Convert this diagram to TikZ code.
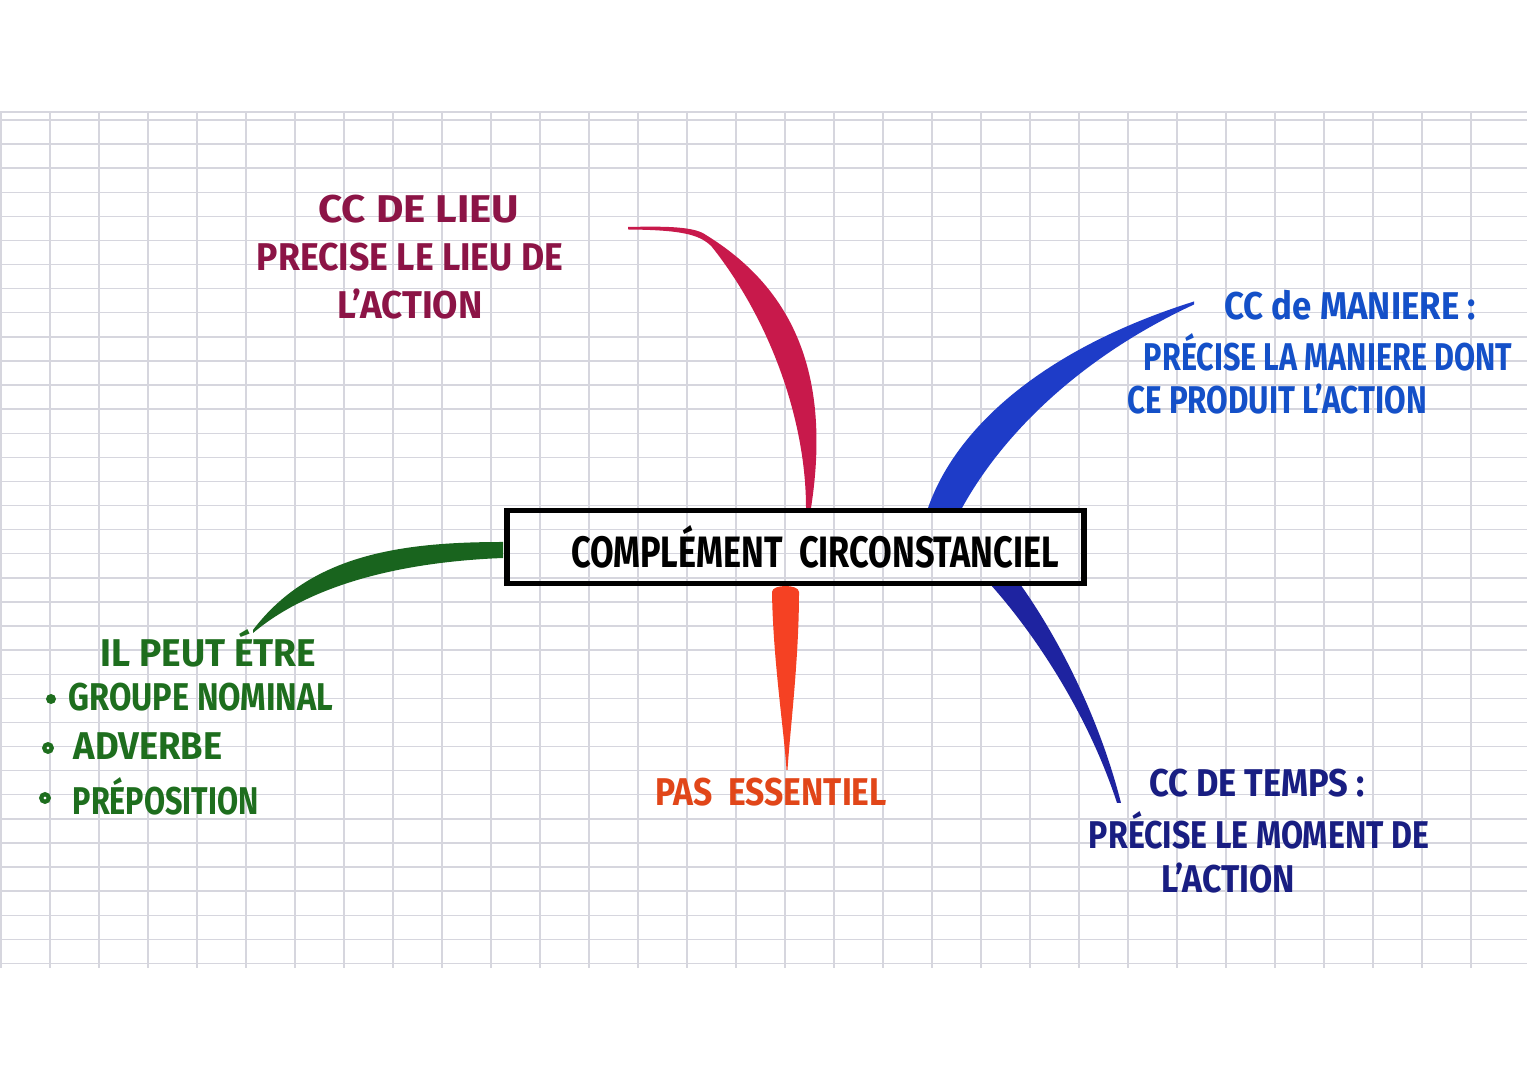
\documentclass[tikz,border=0pt]{standalone}
\usepackage{fontspec}
\setmainfont{Fira Sans}
\usepackage{graphicx}
\definecolor{gridc}{RGB}{214,214,222}
\definecolor{lieuB}{RGB}{200,25,75}
\definecolor{lieuT}{RGB}{140,20,70}
\definecolor{manB}{RGB}{30,60,200}
\definecolor{manT}{RGB}{20,80,200}
\definecolor{grnB}{RGB}{25,100,30}
\definecolor{grnT}{RGB}{30,110,30}
\definecolor{orgB}{RGB}{245,65,35}
\definecolor{orgT}{RGB}{225,70,25}
\definecolor{navB}{RGB}{30,35,160}
\definecolor{navT}{RGB}{25,30,130}
\newcommand\hw[2][0.78]{\scalebox{#1}[1]{#2}}
\tikzset{
  lbl/.style={inner sep=0pt, font=\fontsize{11}{13}\selectfont\bfseries},
  gridline/.style={draw=gridc, line width=0.4pt},
  mainbox/.style={draw=black, line width=1.6pt, minimum width=5.77cm, minimum height=0.73cm, inner sep=0pt},
  hollowdot/.style={circle, line width=1.2pt, inner sep=0pt, minimum size=0.075cm},
  fulldot/.style={circle, inner sep=0pt, minimum size=0.1cm},
}
\begin{document}
\begin{tikzpicture}[x=0.01cm,y=-0.01cm]
\fill[white] (0,0) rectangle (1527,1080);
\useasboundingbox (0,0) rectangle (1527,1080);
% grid paper
\foreach \k in {0,...,30} {\draw[gridline] ({1+49*\k},112) -- ({1+49*\k},968);}
\foreach \k in {0,...,35} {\draw[gridline] (0,{120+24.1*\k}) -- (1527,{120+24.1*\k});}
\draw[gridline] (0,112) -- (1527,112);

% branch end points
\coordinate (lieuEnd) at (628,228);
\coordinate (manEnd) at (1194,303);
\coordinate (grnEnd) at (253,631);
\coordinate (orgEnd) at (787,770);
\coordinate (navEnd) at (1119,803);

% branches (tapered strokes)
\fill[lieuB] (628,227) .. controls (670,226) and (695,227) .. (706,235)
  .. controls (782,282) and (834,360) .. (811,508) -- (806,508)
  .. controls (806,420) and (770,320) .. (712,247)
  .. controls (700,234) and (680,230) .. (628,229.5) -- cycle;
\fill[manB] (928,508) .. controls (955,430) and (1040,350) .. (1194,301.5)
  -- (1194,304.5) .. controls (1085,355) and (1005,430) .. (962,508) -- cycle;
\fill[grnB] (503,542) .. controls (400,542) and (310,555) .. (253,630)
  -- (253,633) .. controls (310,585) and (400,562) .. (503,558) -- cycle;
\fill[orgB] (772,592) .. controls (772,584) and (799,584) .. (799,592)
  .. controls (799,660) and (790,730) .. (787.5,770) -- (786.5,770)
  .. controls (784,730) and (773,660) .. (772,592) -- cycle;
\fill[navB] (1020,584) .. controls (1060,640) and (1100,720) .. (1121,803)
  -- (1117,803) .. controls (1090,720) and (1040,640) .. (990,584) -- cycle;

% central box
\node[mainbox] (c) at (795.5,547) {};
\node[lbl, font=\fontsize{12.5}{14}\selectfont\bfseries] (ctext) at (815,547) {\hw{COMPLÉMENT\ \ CIRCONSTANCIEL}};

% CC de lieu
\node[lbl, text=lieuT] (l1) at (419,209) {\hw[1.09]{CC DE LIEU}};
\node[lbl, text=lieuT] (l2) at (410,257) {\hw[0.92]{PRECISE LE LIEU DE}};
\node[lbl, text=lieuT] (l3) at (410,304) {\hw[0.95]{L'ACTION}};

% CC de maniere
\node[lbl, text=manT] (m1) at (1350,305) {\hw[0.90]{CC de MANIERE :}};
\node[lbl, text=manT] (m2) at (1328,352) {\hw[0.79]{PRÉCISE LA MANIERE DONT}};
\node[lbl, text=manT] (m3) at (1277,399) {\hw[0.81]{CE PRODUIT L'ACTION}};

% il peut etre
\node[lbl, text=grnT, anchor=west] (g0) at (100,648) {\hw[0.96]{IL PEUT ÉTRE}};
\node[fulldot, fill=grnT] (b1) at (51,699) {};
\node[lbl, text=grnT, anchor=west] (g1) at (68,697) {\hw[0.84]{GROUPE NOMINAL}};
\node[hollowdot, draw=grnT] (b2) at (48,748) {};
\node[lbl, text=grnT, anchor=west] (g2) at (73,746) {\hw[0.94]{ADVERBE}};
\node[hollowdot, draw=grnT] (b3) at (45,798) {};
\node[lbl, text=grnT, anchor=west] (g3) at (72,796) {\hw[0.79]{PRÉPOSITION}};

% pas essentiel
\node[lbl, text=orgT] (p) at (771,792) {\hw[0.87]{PAS\ \ ESSENTIEL}};

% CC de temps
\node[lbl, text=navT] (t1) at (1257,783) {\hw[0.89]{CC DE TEMPS :}};
\node[lbl, text=navT] (t2) at (1259,830) {\hw[0.83]{PRÉCISE LE MOMENT DE}};
\node[lbl, text=navT] (t3) at (1228,878) {\hw[0.87]{L'ACTION}};
\end{tikzpicture}
\end{document}
